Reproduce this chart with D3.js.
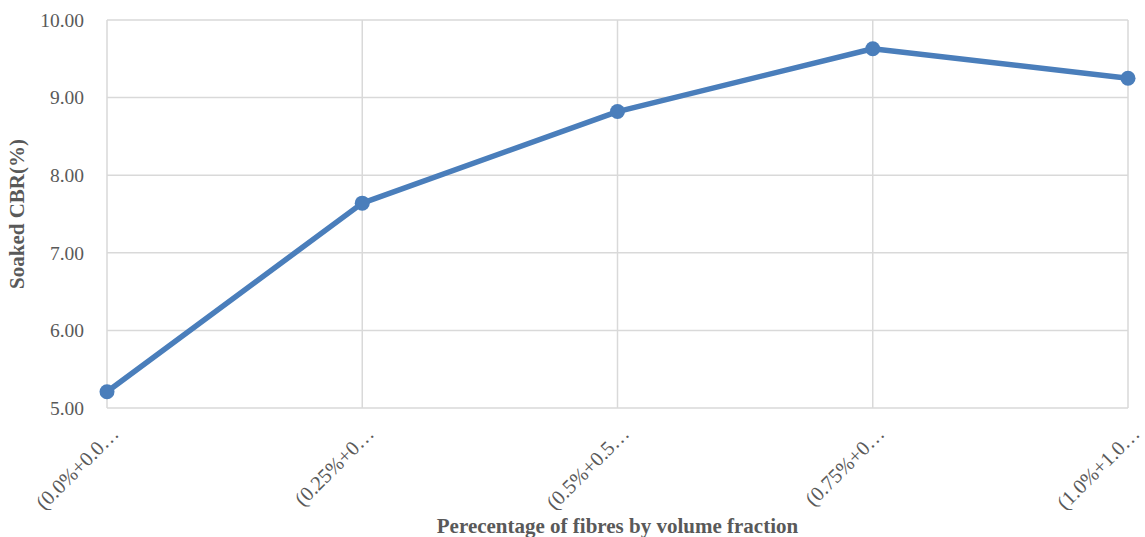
<!DOCTYPE html>
<html><head><meta charset="utf-8">
<script src="https://cdn.jsdelivr.net/npm/d3@7"></script>
<style>body{margin:0;background:#fff}svg{display:block}</style>
</head><body>
<svg id="chart" width="1145" height="537"></svg>
<script>
const categories = ["(0.0%+0.0…", "(0.25%+0…", "(0.5%+0.5…", "(0.75%+0…", "(1.0%+1.0…"];
const cbrValues = [5.21, 7.64, 8.82, 9.63, 9.25];
const yTicks = [5, 6, 7, 8, 9, 10];
const xTitle = "Perecentage of fibres by volume fraction";
const yTitle = "Soaked CBR(%)";

const svg = d3.select("#chart");
const m = {left:107, right:1128, top:20, bottom:408};
const x = d3.scalePoint().domain(categories).range([m.left, m.right]).padding(0);
const y = d3.scaleLinear().domain([5, 10]).range([m.bottom, m.top]);
const font = "'Liberation Serif','Times New Roman',serif";
const grid = "#d9d9d9";

svg.append("g").selectAll("line").data(yTicks).join("line")
  .attr("x1", m.left).attr("x2", m.right)
  .attr("y1", d => y(d)).attr("y2", d => y(d))
  .attr("stroke", grid).attr("stroke-width", 1.5);
svg.append("g").selectAll("line").data(categories).join("line")
  .attr("x1", d => x(d)).attr("x2", d => x(d))
  .attr("y1", m.top).attr("y2", m.bottom)
  .attr("stroke", grid).attr("stroke-width", 1.5);

svg.append("g").selectAll("text").data(yTicks).join("text")
  .attr("x", m.left - 23).attr("y", d => y(d)).attr("dy", "0.35em")
  .attr("text-anchor", "end").attr("font-family", font).attr("font-size", 19.5)
  .attr("fill", "#595959").text(d => d.toFixed(2));

svg.append("g").selectAll("text").data(categories).join("text")
  .attr("transform", d => `translate(${x(d)+13},${m.bottom+27}) rotate(-45)`)
  .attr("text-anchor", "end").attr("font-family", font).attr("font-size", 20.5)
  .attr("fill", "#595959").text(d => d);

svg.append("path").datum(cbrValues)
  .attr("d", d3.line().x((d,i) => x(categories[i])).y(d => y(d)))
  .attr("fill", "none").attr("stroke", "#4a7ebb").attr("stroke-width", 5.5)
  .attr("stroke-linejoin", "round");
svg.append("g").selectAll("circle").data(cbrValues).join("circle")
  .attr("cx", (d,i) => x(categories[i])).attr("cy", d => y(d)).attr("r", 7.5)
  .attr("fill", "#4a7ebb");

svg.append("text").attr("x", (m.left+m.right)/2).attr("y", 533)
  .attr("text-anchor", "middle").attr("font-family", font).attr("font-size", 21)
  .attr("font-weight", "bold").attr("fill", "#595959").text(xTitle);
svg.append("text").attr("transform", `translate(24,${(m.top+m.bottom)/2}) rotate(-90)`)
  .attr("text-anchor", "middle").attr("font-family", font).attr("font-size", 21)
  .attr("font-weight", "bold").attr("fill", "#595959").text(yTitle);
</script>
</body></html>
